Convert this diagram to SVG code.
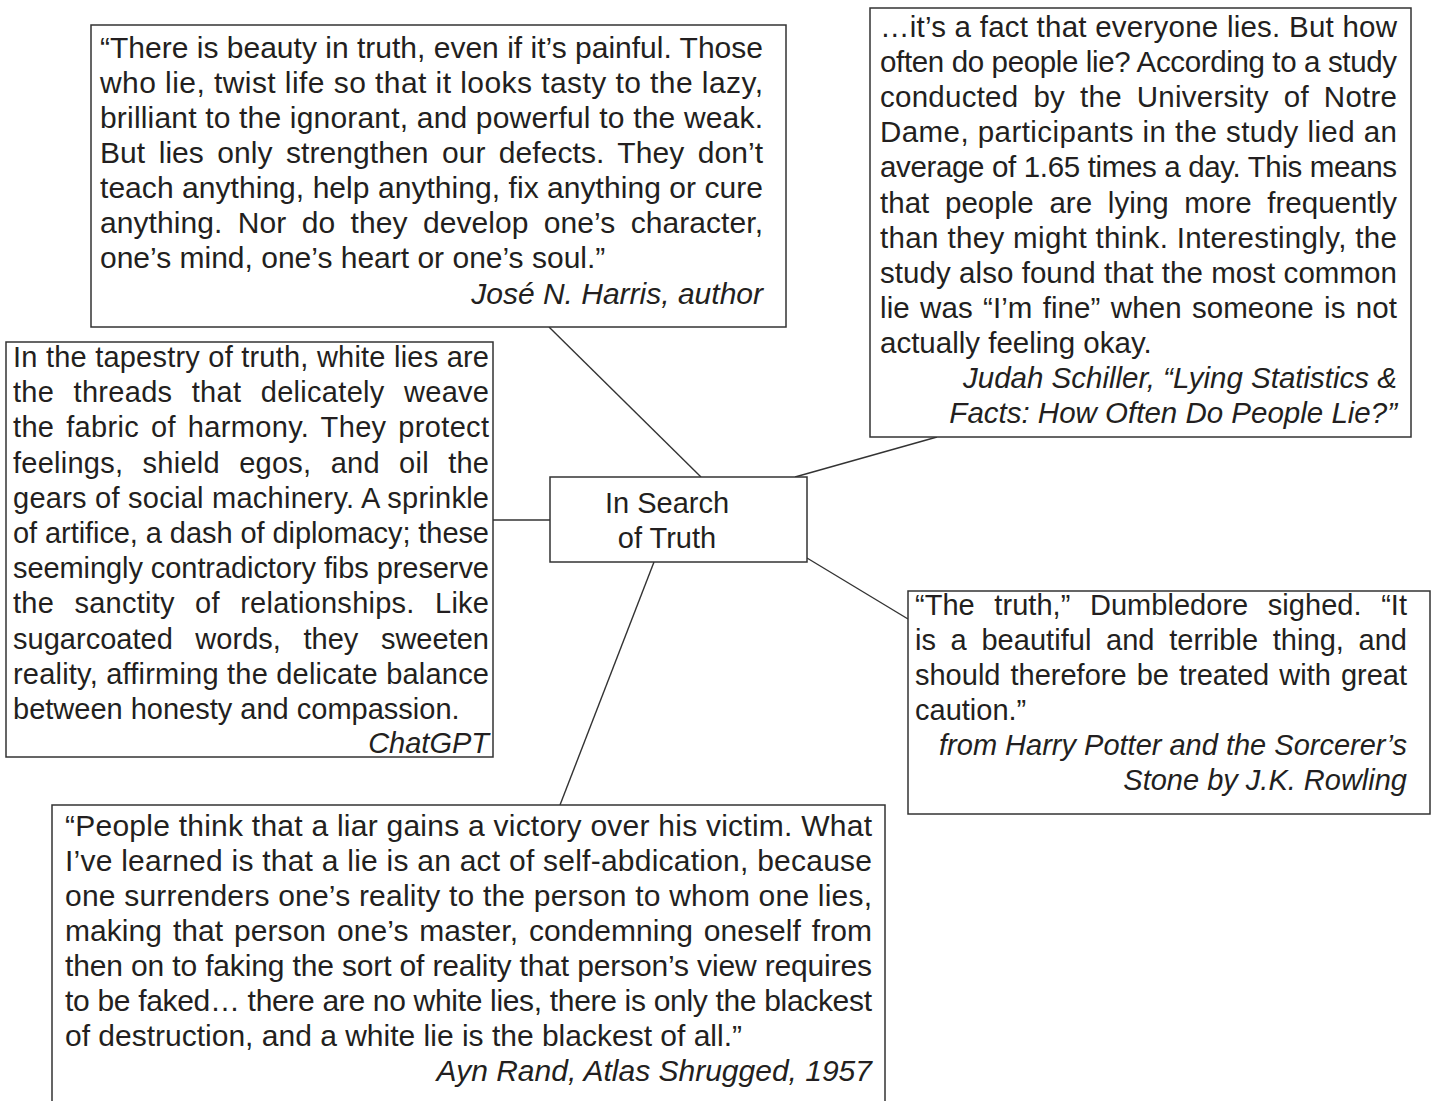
<svg xmlns="http://www.w3.org/2000/svg" width="1436" height="1101" viewBox="0 0 1436 1101">
<style>
.box{fill:#fff;stroke:#333;stroke-width:1.5}
text{font-family:"Liberation Sans",Arial,sans-serif;fill:#231f20}
.s29{font-size:29px}
.s295{font-size:29.5px}
.s30{font-size:30px}
.au{font-style:italic;text-anchor:end}
.mid{text-anchor:middle}
#connectors line{stroke:#333;stroke-width:1.4}
</style>
<rect width="1436" height="1101" fill="#fff"/>
<g id="connectors">
<line x1="549" y1="327" x2="701" y2="477"/>
<line x1="795" y1="477" x2="937" y2="437"/>
<line x1="493" y1="520" x2="550" y2="520"/>
<line x1="807" y1="558" x2="908" y2="619"/>
<line x1="654" y1="562" x2="560" y2="805"/>
</g>
<g id="center">
<rect class="box" x="550" y="477" width="257" height="85"/>
<text class="s29 mid" x="667" y="513">In Search</text>
<text class="s29 mid" x="667" y="548">of Truth</text>
</g>
<g id="harris" class="s30">
<rect class="box" x="91" y="25" width="695" height="302"/>
<text x="100" y="58" textLength="663" lengthAdjust="spacing">“There is beauty in truth, even if it’s painful. Those</text>
<text x="100" y="93" textLength="663" lengthAdjust="spacing">who lie, twist life so that it looks tasty to the lazy,</text>
<text x="100" y="128" textLength="663" lengthAdjust="spacing">brilliant to the ignorant, and powerful to the weak.</text>
<text x="100" y="163" textLength="663" lengthAdjust="spacing" word-spacing="5">But lies only strengthen our defects. They don’t</text>
<text x="100" y="198" textLength="663" lengthAdjust="spacing">teach anything, help anything, fix anything or cure</text>
<text x="100" y="233" textLength="663" lengthAdjust="spacing" word-spacing="7">anything. Nor do they develop one’s character,</text>
<text x="100" y="268">one’s mind, one’s heart or one’s soul.”</text>
<text class="au" x="763" y="304">José N. Harris, author</text>
</g>
<g id="schiller" class="s295">
<rect class="box" x="870" y="8" width="541" height="429"/>
<text x="880" y="37" textLength="517" lengthAdjust="spacing">…it’s a fact that everyone lies. But how</text>
<text x="880" y="72" textLength="517" lengthAdjust="spacing">often do people lie? According to a study</text>
<text x="880" y="107" textLength="517" lengthAdjust="spacing" word-spacing="6.5">conducted by the University of Notre</text>
<text x="880" y="142" textLength="517" lengthAdjust="spacing">Dame, participants in the study lied an</text>
<text x="880" y="177" textLength="517" lengthAdjust="spacing">average of 1.65 times a day. This means</text>
<text x="880" y="213" textLength="517" lengthAdjust="spacing" word-spacing="7.5">that people are lying more frequently</text>
<text x="880" y="248" textLength="517" lengthAdjust="spacing">than they might think. Interestingly, the</text>
<text x="880" y="283" textLength="517" lengthAdjust="spacing">study also found that the most common</text>
<text x="880" y="318" textLength="517" lengthAdjust="spacing" word-spacing="2">lie was “I’m fine” when someone is not</text>
<text x="880" y="353">actually feeling okay.</text>
<text class="au" x="1397" y="388">Judah Schiller, “Lying Statistics &amp;</text>
<text class="au" x="1397" y="423">Facts: How Often Do People Lie?”</text>
</g>
<g id="chatgpt" class="s29">
<rect class="box" x="6" y="342" width="487" height="415"/>
<text x="13" y="367" textLength="476" lengthAdjust="spacing">In the tapestry of truth, white lies are</text>
<text x="13" y="402" textLength="476" lengthAdjust="spacing" word-spacing="11">the threads that delicately weave</text>
<text x="13" y="437" textLength="476" lengthAdjust="spacing" word-spacing="3.5">the fabric of harmony. They protect</text>
<text x="13" y="473" textLength="476" lengthAdjust="spacing" word-spacing="11">feelings, shield egos, and oil the</text>
<text x="13" y="508" textLength="476" lengthAdjust="spacing">gears of social machinery. A sprinkle</text>
<text x="13" y="543" textLength="476" lengthAdjust="spacing">of artifice, a dash of diplomacy; these</text>
<text x="13" y="578" textLength="476" lengthAdjust="spacing">seemingly contradictory fibs preserve</text>
<text x="13" y="613" textLength="476" lengthAdjust="spacing" word-spacing="12">the sanctity of relationships. Like</text>
<text x="13" y="649" textLength="476" lengthAdjust="spacing" word-spacing="14.5">sugarcoated words, they sweeten</text>
<text x="13" y="684" textLength="476" lengthAdjust="spacing">reality, affirming the delicate balance</text>
<text x="13" y="719">between honesty and compassion.</text>
<text class="au" x="489" y="753">ChatGPT</text>
</g>
<g id="dumbledore" class="s29">
<rect class="box" x="908" y="591" width="522" height="223"/>
<text x="915" y="615" textLength="492" lengthAdjust="spacing" word-spacing="11.5">“The truth,” Dumbledore sighed. “It</text>
<text x="915" y="650" textLength="492" lengthAdjust="spacing" word-spacing="6.5">is a beautiful and terrible thing, and</text>
<text x="915" y="685" textLength="492" lengthAdjust="spacing" word-spacing="2">should therefore be treated with great</text>
<text x="915" y="720">caution.”</text>
<text class="au" x="1407" y="755">from Harry Potter and the Sorcerer’s</text>
<text class="au" x="1407" y="790">Stone by J.K. Rowling</text>
</g>
<g id="rand" class="s30">
<rect class="box" x="52" y="805" width="833" height="310"/>
<text x="65" y="836" textLength="807" lengthAdjust="spacing">“People think that a liar gains a victory over his victim. What</text>
<text x="65" y="871" textLength="807" lengthAdjust="spacing">I’ve learned is that a lie is an act of self-abdication, because</text>
<text x="65" y="906" textLength="807" lengthAdjust="spacing">one surrenders one’s reality to the person to whom one lies,</text>
<text x="65" y="941" textLength="807" lengthAdjust="spacing" word-spacing="2.5">making that person one’s master, condemning oneself from</text>
<text x="65" y="976" textLength="807" lengthAdjust="spacing">then on to faking the sort of reality that person’s view requires</text>
<text x="65" y="1011" textLength="807" lengthAdjust="spacing">to be faked… there are no white lies, there is only the blackest</text>
<text x="65" y="1046">of destruction, and a white lie is the blackest of all.”</text>
<text class="au" x="872" y="1081">Ayn Rand, Atlas Shrugged, 1957</text>
</g>
</svg>
